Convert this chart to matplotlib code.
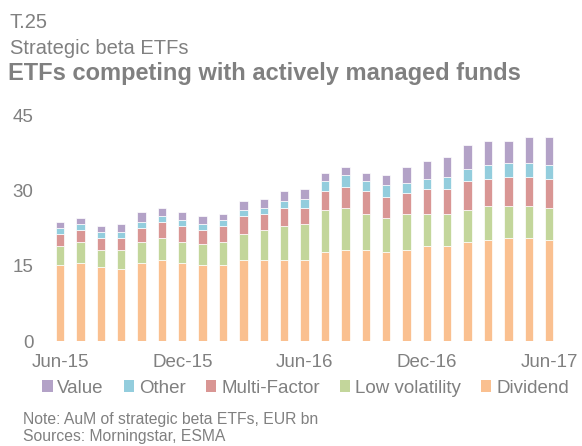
import numpy as np
import matplotlib.pyplot as plt
from matplotlib.patches import Patch

plt.rcParams['font.family'] = ['Liberation Sans', 'DejaVu Sans']

months = ["Jun-15", "Jul-15", "Aug-15", "Sep-15", "Oct-15", "Nov-15", "Dec-15",
          "Jan-16", "Feb-16", "Mar-16", "Apr-16", "May-16", "Jun-16", "Jul-16",
          "Aug-16", "Sep-16", "Oct-16", "Nov-16", "Dec-16", "Jan-17", "Feb-17",
          "Mar-17", "Apr-17", "May-17", "Jun-17"]

dividend = [15.1, 15.5, 14.7, 14.3, 15.5, 16.2, 15.5, 15.1, 15.1, 16.2, 16.2, 16.2, 16.2,
            17.8, 18.2, 18.2, 17.8, 18.2, 19.0, 19.0, 19.8, 20.2, 20.6, 20.6, 20.2]
low_vol = [3.9, 4.3, 3.5, 3.9, 4.3, 4.4, 4.3, 4.3, 4.7, 5.2, 6.0, 6.8, 7.2,
           8.4, 8.4, 7.2, 6.8, 7.2, 6.4, 6.4, 6.4, 6.8, 6.4, 6.4, 6.4]
multi_factor = [2.4, 2.4, 2.4, 2.4, 2.8, 3.2, 3.2, 2.8, 3.2, 3.6, 3.2, 3.6, 3.2,
                3.6, 4.0, 4.4, 4.0, 4.0, 4.8, 4.8, 5.6, 5.2, 5.6, 5.6, 5.6]
other = [1.2, 1.2, 1.2, 1.2, 1.2, 1.2, 1.2, 1.2, 1.2, 1.2, 1.2, 1.2, 1.6,
         2.0, 2.4, 2.0, 2.4, 2.0, 2.0, 2.4, 2.4, 2.8, 2.8, 2.8, 2.8]
value = [1.2, 1.2, 1.2, 1.6, 2.0, 1.6, 1.6, 1.6, 1.2, 1.6, 1.6, 2.0, 2.0,
         1.6, 1.6, 1.6, 2.0, 3.2, 3.6, 4.0, 4.8, 4.8, 4.4, 5.2, 5.6]

series = [("Dividend", dividend, "#FAC090"),
          ("Low volatility", low_vol, "#C3D69B"),
          ("Multi-Factor", multi_factor, "#D99694"),
          ("Other", other, "#93CDDD"),
          ("Value", value, "#B3A2C7")]

grey = "#808080"

fig = plt.figure(figsize=(5.82, 4.46), dpi=100)
ax = fig.add_axes([0.0768, 0.235, 0.893, 0.507])

x = np.arange(len(months))
bottom = np.zeros(len(months))
for name, vals, col in series:
    ax.bar(x, vals, width=0.41, bottom=bottom, color=col, edgecolor="white", linewidth=0.5)
    bottom += np.array(vals)

ax.set_ylim(0, 45)
ax.set_xlim(-0.75, 24.75)
ax.set_yticks([0, 15, 30, 45])
ax.set_xticks(x[::6])
ax.set_xticklabels(months[::6])
ax.tick_params(axis="both", length=0, colors=grey, labelsize=13.5)
ax.tick_params(axis="x", pad=9)
ax.tick_params(axis="y", pad=8)
for s in ax.spines.values():
    s.set_visible(False)

# legend in the order shown on the chart
handles = [Patch(facecolor=col, label=name) for name, vals, col in series[::-1]]
fig.legend(handles=handles, loc="center", bbox_to_anchor=(0.525, 0.13), ncol=5,
           frameon=False, fontsize=13.5, handlelength=0.55, handleheight=0.55,
           handletextpad=0.25, columnspacing=1.08, labelcolor=grey)

fig.text(0.017, 0.937, "T.25", fontsize=14.5, color=grey, va="baseline")
fig.text(0.017, 0.879, "Strategic beta ETFs", fontsize=14.5, color=grey, va="baseline")
fig.text(0.014, 0.821, "ETFs competing with actively managed funds", fontsize=17,
         color=grey, fontweight="bold", va="baseline")
fig.text(0.04, 0.049, "Note: AuM of strategic beta ETFs, EUR bn", fontsize=11.3,
         color=grey, va="baseline")
fig.text(0.04, 0.011, "Sources: Morningstar, ESMA", fontsize=11.3, color=grey, va="baseline")

fig.savefig("out.png", dpi=100)
